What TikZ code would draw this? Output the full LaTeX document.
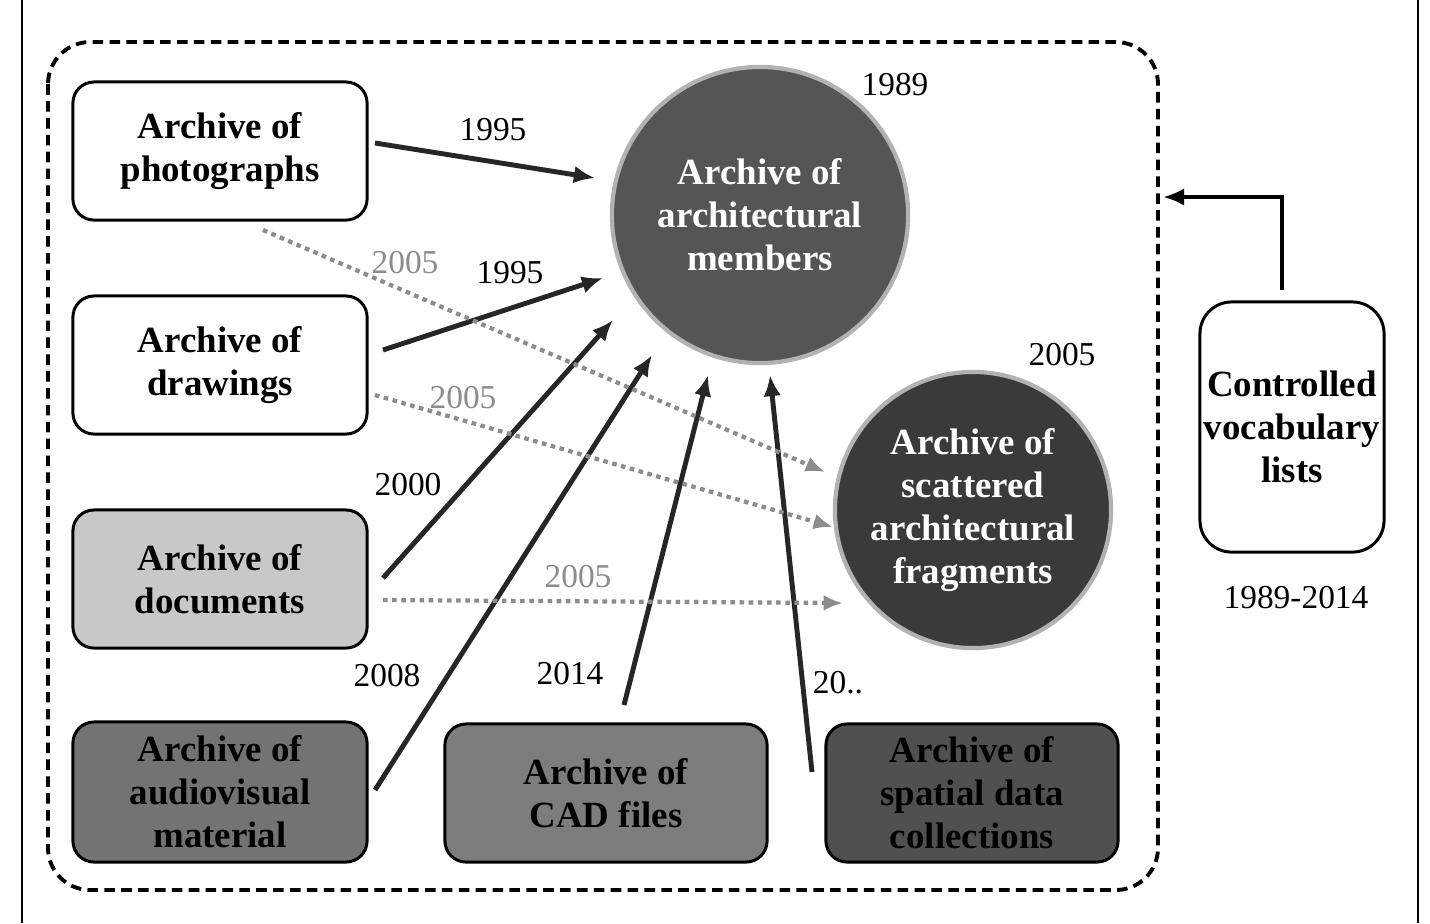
\documentclass[tikz,border=0pt]{standalone}
\usepackage{fontspec}
\setmainfont{Liberation Serif}
\usetikzlibrary{arrows.meta}
\definecolor{docgray}{RGB}{200, 200, 200}
\definecolor{avgray}{RGB}{115, 115, 115}
\definecolor{cadgray}{RGB}{125, 125, 125}
\definecolor{spatgray}{RGB}{80, 80, 80}
\definecolor{membgray}{RGB}{85, 85, 85}
\definecolor{fraggray}{RGB}{58, 58, 58}
\definecolor{dotgray}{RGB}{140, 140, 140}
\newcommand{\boxfont}{\fontsize{10.5}{12.2}\selectfont\bfseries}

\begin{document}
\begin{tikzpicture}[
  x=0.01cm, y=-0.01cm,
  archbox/.style={draw=black, line width=0.85pt, rounded corners=6pt, align=center, font=\boxfont, inner sep=0},
  archcirc/.style={circle, draw=gray!60, line width=1.2pt, align=center, font=\boxfont, text=white, inner sep=0},
  solidarrow/.style={line width=1.4pt, draw=black!85, -{Latex[length=6pt, width=5pt]}},
  dottedarrow/.style={line width=1.2pt, draw=dotgray, dash pattern=on 1.3pt off 1.3pt, -{Latex[length=5.5pt, width=4.5pt]}},
  yearlabel/.style={font=\fontsize{9.5}{10}\selectfont},
  dotlabel/.style={font=\fontsize{9.5}{10}\selectfont, text=dotgray},
]
\useasboundingbox (0,0) rectangle (1430,923);

% page frame and dashed group
\draw[line width=0.5pt] (22,0) -- (22,923) (1418,0) -- (1418,923);
\draw[line width=1.1pt, dash pattern=on 3pt off 1.8pt, rounded corners=12pt] (48,42) rectangle (1158,890);

% source archives
\node[archbox, fill=white, minimum width=2.94cm, minimum height=1.38cm] (photo) at (220,151) {Archive of\\photographs};
\node[archbox, fill=white, minimum width=2.94cm, minimum height=1.38cm] (draw) at (220,365) {Archive of\\drawings};
\node[archbox, fill=docgray, minimum width=2.94cm, minimum height=1.38cm] (docs) at (220,579) {Archive of\\documents};
\node[archbox, fill=avgray, minimum width=2.94cm, minimum height=1.40cm] (av) at (220,792) {Archive of\\audiovisual\\material};
\node[archbox, fill=cadgray, minimum width=3.22cm, minimum height=1.38cm] (cad) at (606,793) {Archive of\\CAD files};
\node[archbox, fill=spatgray, minimum width=2.92cm, minimum height=1.38cm] (spat) at (972,793) {Archive of\\spatial data\\collections};

% target archives
\node[archcirc, fill=membgray, minimum size=2.96cm] (memb) at (760,215) {Archive of\\architectural\\members};
\node[archcirc, fill=fraggray, minimum size=2.76cm] (frag) at (973,510) {Archive of\\scattered\\architectural\\fragments};
\node[yearlabel] at (895,85) {1989};
\node[yearlabel] at (1062,355) {2005};

% vocabulary
\node[archbox, fill=white, rounded corners=9pt, minimum width=1.84cm, minimum height=2.50cm] (vocab) at (1292,427) {Controlled\\vocabulary\\lists};
\node[yearlabel] at (1296,598) {1989-2014};
\coordinate (vtop) at (1282,290);
\coordinate (vbend) at (1282,197);
\coordinate (vend) at (1163,197);
\draw[line width=1.4pt, -{Latex[length=6pt, width=5pt]}] (vtop) -- (vbend) -- (vend);

% solid links
\coordinate (p1) at (375,143); \coordinate (m1) at (595,178);
\coordinate (p2) at (383,350); \coordinate (m2) at (603,278);
\coordinate (p3) at (383,578); \coordinate (m3) at (613,320);
\coordinate (p4) at (375,790); \coordinate (m4) at (652,355);
\coordinate (p5) at (624,705); \coordinate (m5) at (708,375);
\coordinate (p6) at (812,772); \coordinate (m6) at (770,375);
\draw[solidarrow] (p1) -- (m1);
\draw[solidarrow] (p2) -- (m2);
\draw[solidarrow] (p3) -- (m3);
\draw[solidarrow] (p4) -- (m4);
\draw[solidarrow] (p5) -- (m5);
\draw[solidarrow] (p6) -- (m6);
\node[yearlabel] at (493,130) {1995};
\node[yearlabel] at (510,273) {1995};
\node[yearlabel] at (408,485) {2000};
\node[yearlabel] at (387,676) {2008};
\node[yearlabel] at (570,674) {2014};
\node[yearlabel] at (838,683) {20..};

% dotted links
\coordinate (q1) at (263,230); \coordinate (f1) at (825,472);
\coordinate (q2) at (375,395); \coordinate (f2) at (833,527);
\coordinate (q3) at (383,600); \coordinate (f3) at (843,603);
\draw[dottedarrow] (q1) -- (f1);
\draw[dottedarrow] (q2) -- (f2);
\draw[dottedarrow] (q3) -- (f3);
\node[dotlabel] at (405,263) {2005};
\node[dotlabel] at (463,398) {2005};
\node[dotlabel] at (578,577) {2005};
\end{tikzpicture}
\end{document}
